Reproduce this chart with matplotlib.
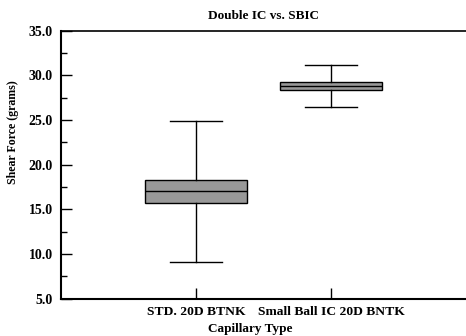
import matplotlib
matplotlib.use("Agg")
import matplotlib.pyplot as plt
from matplotlib.ticker import MultipleLocator, FormatStrFormatter

# box statistics (grams)
labels = ["STD. 20D BTNK", "Small Ball IC 20D BNTK"]
whisker_low = [9.1, 26.4]
q1 = [15.7, 28.4]
median = [17.0, 28.8]
q3 = [18.3, 29.2]
whisker_high = [24.9, 31.2]

plt.rcParams['font.family'] = ['Liberation Serif', 'DejaVu Serif']
plt.rcParams['font.weight'] = 'bold'

fig = plt.figure(figsize=(4.66, 3.36), dpi=100)
ax = fig.add_axes([0.131, 0.111, 0.869, 0.798])

stats = []
for i in range(len(labels)):
    stats.append(dict(label=labels[i], whislo=whisker_low[i], q1=q1[i],
                      med=median[i], q3=q3[i], whishi=whisker_high[i], fliers=[]))

ax.bxp(stats, positions=[1, 2], widths=0.75, patch_artist=True, showfliers=False,
       boxprops=dict(facecolor='#999999', edgecolor='black', linewidth=1),
       medianprops=dict(color='black', linewidth=1),
       whiskerprops=dict(color='black', linewidth=1),
       capprops=dict(color='black', linewidth=1),
       capwidths=0.38)

ax.set_xlim(0, 3)
ax.set_ylim(5, 35)
ax.yaxis.set_major_locator(MultipleLocator(5))
ax.yaxis.set_minor_locator(MultipleLocator(2.5))
ax.yaxis.set_major_formatter(FormatStrFormatter('%.1f'))
ax.tick_params(axis='y', which='major', direction='in', length=8, width=1, labelsize=10, pad=6)
ax.tick_params(axis='y', which='minor', direction='in', length=4, width=1)
ax.tick_params(axis='x', direction='in', length=8, width=1, labelsize=9.7, pad=5)

for s in ['left', 'bottom']:
    ax.spines[s].set_linewidth(1.5)
ax.spines['top'].set_linewidth(1.2)
ax.spines['right'].set_visible(False)

ax.set_title("Double IC vs. SBIC", fontsize=9.5, fontweight='bold', pad=8)
ax.set_ylabel("Shear Force (grams)", fontsize=8.6, fontweight='bold')
ax.yaxis.set_label_coords(-0.104, 0.622)
ax.set_xlabel("Capillary Type", fontsize=9.5, fontweight='bold')
ax.xaxis.set_label_coords(0.467, -0.09)

fig.savefig("out.png", dpi=100)
